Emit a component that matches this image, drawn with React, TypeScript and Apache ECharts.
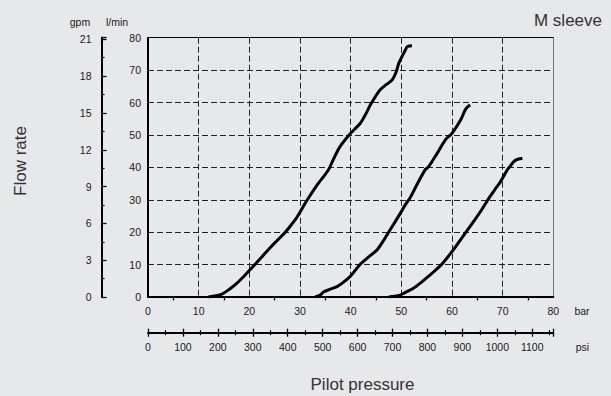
import React, { useEffect, useRef } from "react";
import * as echarts from "echarts";

const barTicks = { min: 0, max: 80, interval: 10 };
const flowTicks = { min: 0, max: 80, interval: 10 };
const LPM_PER_GPM = 3.78541;
const PSI_PER_BAR = 14.5038;
const gpmInterval = 3;
const psiInterval = 100;

const curve1: [number, number][] = [
  [11.9, 0], [13, 0.3], [14.6, 0.9], [16, 2.3], [17.5, 4.2], [19.3, 7], [21.1, 10],
  [22.6, 12.6], [24.1, 15.2], [25.6, 17.6], [27.1, 20], [28.3, 22.3], [29.4, 24.6],
  [31.3, 29.6], [33.4, 34.6], [35.6, 39.2], [36.6, 42.5], [37.9, 46.4],
  [39.7, 50], [41.9, 53.6], [43.0, 56.5], [43.9, 59.3], [45.8, 63.9], [47.0, 65.5],
  [48.2, 67], [49.0, 69.5], [49.5, 72.1], [50.8, 76.2], [51.2, 77.3], [52.1, 77.5],
];
const curve2: [number, number][] = [
  [33, 0], [34, 0.6], [34.7, 1.6], [36, 2.4], [37.3, 3.2], [38.6, 4.6], [39.9, 6.3],
  [41.9, 10.1], [43.5, 12.3], [45.2, 14.5], [46.4, 17.2], [47.5, 20], [48.7, 23],
  [49.8, 25.8], [50.8, 28.5], [51.8, 30.8], [53.2, 35], [54.7, 39.2], [55.4, 40.2],
  [57.1, 44.4], [58.7, 48.5], [60, 50.5], [61.7, 54.6], [62.6, 57.7], [63.1, 58.7],
  [63.6, 59.2],
];
const curve3: [number, number][] = [
  [47.5, 0], [48.7, 0.2], [49.8, 0.6], [51, 1.6], [52.4, 2.7], [54, 4.6], [55.7, 6.8],
  [56.9, 8.5], [58, 10.1], [60, 14], [61.6, 17.5], [63.3, 21.2], [64.5, 23.8],
  [65.6, 26.3], [67.3, 30.5], [68.4, 33], [69.6, 35.6], [70.9, 39.2], [71.5, 40.4],
  [72.2, 41.8], [73.0, 42.5], [73.9, 42.7],
];

const FONT = "'Liberation Sans', Arial, sans-serif";
const BG = "#e7e8e9";
const TICK_COLOR = "#1a1a1a";

const isMultiple = (v: number, step: number) =>
  Math.abs(v / step - Math.round(v / step)) < 1e-6;

export default function App() {
  const ref = useRef<HTMLDivElement>(null);
  useEffect(() => {
    document.body.style.margin = "0";
    document.body.style.background = BG;
    if (!ref.current) return;
    const chart = echarts.init(ref.current, undefined, { renderer: "svg" });
    const labelStyle = { color: TICK_COLOR, fontSize: 10.5, fontFamily: FONT };
    const gpmMax = flowTicks.max / LPM_PER_GPM;
    const psiMax = barTicks.max * PSI_PER_BAR;
    const lineSeries = [curve1, curve2, curve3].map((c) => ({
      type: "line",
      xAxisIndex: 0,
      yAxisIndex: 0,
      data: c,
      showSymbol: false,
      smooth: 0.3,
      lineStyle: { color: "#000", width: 3 },
      silent: true,
    }));
    const textStyle = (text: string, fontSize: number, fill: string, align: string) => ({
      text, fontSize, fontFamily: FONT, fill,
      align, verticalAlign: "middle", textAlign: align, textVerticalAlign: "middle",
    });
    chart.setOption({
      animation: false,
      backgroundColor: BG,
      grid: { left: 148, right: 57.7, top: 37.7, bottom: 99 },
      xAxis: [
        {
          type: "value",
          position: "bottom",
          min: barTicks.min,
          max: barTicks.max,
          interval: barTicks.interval,
          axisLine: { show: true, onZero: false, lineStyle: { color: "#000", width: 2 } },
          axisTick: { show: false },
          minorTick: { show: true, splitNumber: 2, length: 3.5, lineStyle: { color: "#000", width: 1.3 } },
          axisLabel: { ...labelStyle, margin: 8 },
          splitLine: {
            show: true,
            showMinLine: false,
            showMaxLine: false,
            lineStyle: { color: "#222", width: 1, type: [6, 3] },
          },
          minorSplitLine: { show: false },
        },
        {
          type: "value",
          position: "top",
          min: barTicks.min,
          max: barTicks.max,
          interval: barTicks.interval,
          axisLine: { show: true, onZero: false, lineStyle: { color: "#000", width: 1 } },
          axisTick: { show: false },
          axisLabel: { show: false },
          splitLine: { show: false },
        },
        {
          type: "value",
          position: "bottom",
          offset: 35.7,
          min: 0,
          max: psiMax,
          interval: psiInterval,
          axisLine: { show: true, onZero: false, lineStyle: { color: "#000", width: 2 } },
          axisTick: { show: true, inside: true, length: 4, lineStyle: { color: "#000", width: 1.3 } },
          minorTick: { show: true, splitNumber: 2, length: 2.5, lineStyle: { color: "#000", width: 1.2 } },
          axisLabel: {
            ...labelStyle,
            margin: 9,
            formatter: (v: number) => (isMultiple(v, psiInterval) ? String(v) : ""),
          },
          splitLine: { show: false },
        },
        {
          type: "value",
          position: "bottom",
          offset: 35.7,
          min: 0,
          max: psiMax,
          interval: psiInterval,
          axisLine: { show: false, onZero: false },
          axisTick: { show: true, inside: false, length: 4, lineStyle: { color: "#000", width: 1.3 } },
          minorTick: { show: true, splitNumber: 2, length: 2.5, lineStyle: { color: "#000", width: 1.2 } },
          axisLabel: { show: false },
          splitLine: { show: false },
        },
      ],
      yAxis: [
        {
          type: "value",
          position: "left",
          min: flowTicks.min,
          max: flowTicks.max,
          interval: flowTicks.interval,
          axisLine: { show: true, onZero: false, lineStyle: { color: "#000", width: 2 } },
          axisTick: { show: false },
          axisLabel: { ...labelStyle, margin: 7, padding: [5, 0, 0, 0] },
          splitLine: {
            show: true,
            showMinLine: false,
            showMaxLine: false,
            lineStyle: { color: "#222", width: 1, type: [6, 3] },
          },
        },
        {
          type: "value",
          position: "left",
          offset: 46.5,
          min: 0,
          max: gpmMax,
          interval: gpmInterval,
          axisLine: { show: true, onZero: false, lineStyle: { color: "#000", width: 2 } },
          axisTick: { show: true, inside: true, length: 5, lineStyle: { color: "#000", width: 1.3 } },
          minorTick: { show: true, splitNumber: 2, length: 3, lineStyle: { color: "#000", width: 1.2 } },
          axisLabel: {
            ...labelStyle,
            margin: 10,
            padding: [5, 0, 0, 0],
            formatter: (v: number) => (isMultiple(v, gpmInterval) ? String(v) : ""),
          },
          splitLine: { show: false },
        },
        {
          type: "value",
          position: "right",
          min: flowTicks.min,
          max: flowTicks.max,
          axisLine: { show: true, onZero: false, lineStyle: { color: "#777", width: 1 } },
          axisTick: { show: false },
          axisLabel: { show: false },
          splitLine: { show: false },
        },
      ],
      series: lineSeries,
      graphic: [
        { type: "text", x: 80, y: 21.5, style: textStyle("gpm", 10.5, TICK_COLOR, "center") },
        { type: "text", x: 117, y: 21.5, style: textStyle("l/min", 10.5, TICK_COLOR, "center") },
        { type: "text", x: 602, y: 20.5, style: textStyle("M sleeve", 17, "#333", "right") },
        { type: "text", x: 20, y: 161, rotation: Math.PI / 2, style: textStyle("Flow rate", 17, "#333", "center") },
        { type: "text", x: 362.5, y: 384, style: textStyle("Pilot pressure", 17, "#333", "center") },
        { type: "text", x: 582, y: 310.5, style: textStyle("bar", 10.5, TICK_COLOR, "center") },
        { type: "text", x: 582.5, y: 346.5, style: textStyle("psi", 10.5, TICK_COLOR, "center") },
      ],
    });
    return () => chart.dispose();
  }, []);
  return <div ref={ref} style={{ width: 611, height: 396, background: BG }} />;
}
